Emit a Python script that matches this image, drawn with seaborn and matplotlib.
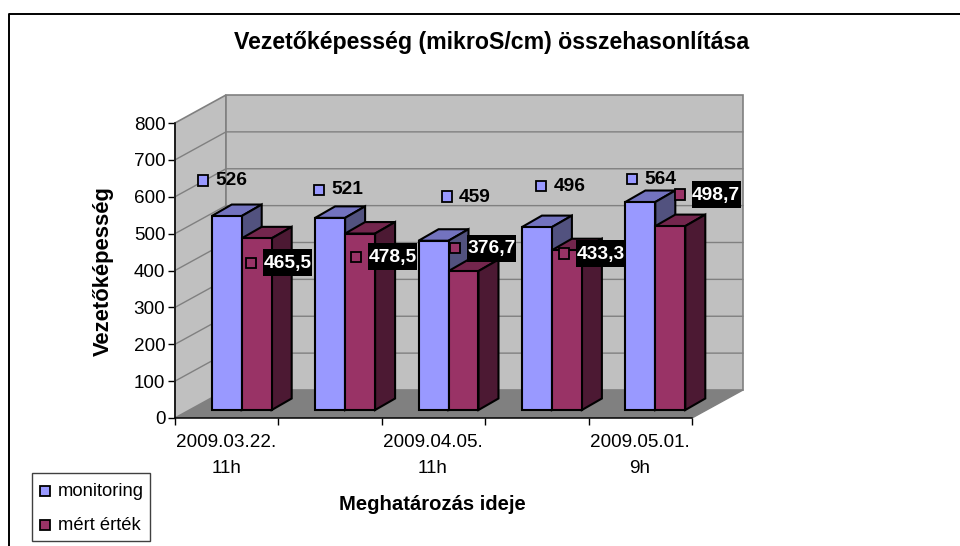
import matplotlib
matplotlib.use("Agg")
import matplotlib.pyplot as plt
import pandas as pd
import seaborn as sns
from matplotlib.patches import Polygon, Rectangle
from matplotlib.transforms import Affine2D

sns.set_theme(style="white")
plt.rcParams["font.family"] = ["Liberation Sans", "DejaVu Sans"]

W, H = 960, 546

dates = ["2009.03.22.\n11h", "", "2009.04.05.\n11h", "", "2009.05.01.\n9h"]
positions = ["d1", "d2", "d3", "d4", "d5"]
monitoring = [526, 521, 459, 496, 564]
mert_ertek = [465.5, 478.5, 376.7, 433.3, 498.7]
monitoring_labels = ["526", "521", "459", "496", "564"]
mert_labels = ["465,5", "478,5", "376,7", "433,3", "498,7"]
y_ticks = [0, 100, 200, 300, 400, 500, 600, 700, 800]

# label places in image pixels (marker x, marker y)
mon_pos = [(203, 180.5), (318.5, 189.5), (446.5, 196.5), (541, 186), (631.5, 179)]
mert_pos = [(251, 262.5), (356, 256.5), (455, 248), (564, 253.5), (679.5, 194.5)]

blue = ["#9999FF", "#7373BF", "#52527F"]
red = ["#993366", "#73264D", "#4C1933"]

df = pd.DataFrame({
    "ido": positions * 2,
    "ertek": monitoring + mert_ertek,
    "sor": ["monitoring"] * 5 + ["mért érték"] * 5,
})

fig = plt.figure(figsize=(W / 100, H / 100), dpi=100)


def fx(x):
    return x / W


def fy(y):
    return 1 - y / H


# front plane of the chart box
ax = fig.add_axes([fx(175), fy(418), (692 - 175) / W, (418 - 123) / H])
ax.patch.set_alpha(0)

sns.barplot(data=df, x="ido", y="ertek", hue="sor", order=positions,
            hue_order=["monitoring", "mért érték"],
            palette=[blue[0], red[0]], width=0.58, gap=0, dodge=True,
            saturation=1, legend=False, ax=ax)
ax.set_xlim(-0.5, 4.5)
ax.set_ylim(0, 800)

px_x = 517 / 5
px_y = 295 / 800
wall_dx, wall_dy = 51 / px_x, 28 / px_y
bar_dx, bar_dy = 15 / px_x, 8 / px_y
side_dx, side_dy = 20 / px_x, 11.5 / px_y
gray = "#808080"

# take the bars before the walls get added to the axes
bars = [b for c in ax.containers for b in c]
bars = sorted(bars, key=lambda p: p.get_x())

# floor and walls
ax.add_patch(Polygon([(-0.5, 0), (-0.5 + wall_dx, wall_dy), (4.5 + wall_dx, wall_dy), (4.5, 0)],
                     fc=gray, ec="none", clip_on=False, zorder=1))
ax.add_patch(Polygon([(-0.5, 0), (-0.5 + wall_dx, wall_dy), (-0.5 + wall_dx, 800 + wall_dy), (-0.5, 800)],
                     fc="#C0C0C0", ec=gray, lw=1.2, clip_on=False, zorder=1))
ax.add_patch(Rectangle((-0.5 + wall_dx, wall_dy), 5, 800,
                       fc="#C0C0C0", ec=gray, lw=1.2, clip_on=False, zorder=1))
for t in y_ticks[1:-1]:
    ax.plot([-0.5, -0.5 + wall_dx, 4.5 + wall_dx], [t, t + wall_dy, t + wall_dy],
            color=gray, lw=1, clip_on=False, zorder=1.5)
ax.plot([4.5, 4.5 + wall_dx], [0, wall_dy], color=gray, lw=1, clip_on=False, zorder=1.5)

# bars pushed back to the middle of the depth, with top and side faces
shift = Affine2D().translate(bar_dx, bar_dy) + ax.transData
z = 3
for b in bars:
    shades = blue if b.get_facecolor()[2] > 0.9 else red
    x0, x1, h = b.get_x(), b.get_x() + b.get_width(), b.get_height()
    top = Polygon([(x0, h), (x0 + side_dx, h + side_dy), (x1 + side_dx, h + side_dy), (x1, h)],
                  fc=shades[1], ec="black", lw=1.5, transform=shift, clip_on=False, zorder=z)
    side = Polygon([(x1, 0), (x1 + side_dx, side_dy), (x1 + side_dx, h + side_dy), (x1, h)],
                   fc=shades[2], ec="black", lw=1.5, transform=shift, clip_on=False, zorder=z)
    ax.add_patch(top)
    ax.add_patch(side)
    b.set_transform(shift)
    b.set_clip_on(False)
    b.set_edgecolor("black")
    b.set_linewidth(1.5)
    b.set_zorder(z + 0.5)
    z += 1

# axes
for s in ["top", "right"]:
    ax.spines[s].set_visible(False)
for s in ["left", "bottom"]:
    ax.spines[s].set_color("black")
    ax.spines[s].set_linewidth(1.1)
    ax.spines[s].set_zorder(2)
ax.set_yticks(y_ticks)
ax.set_xticks([i - 0.5 for i in range(6)])
ax.set_xticklabels([""] * 6)
ax.tick_params(axis="both", length=5, width=1, color="black", direction="out",
               bottom=True, left=True)
ax.tick_params(axis="y", labelsize=13.6, labelcolor="black", pad=2)
ax.set_xlabel("")
ax.set_ylabel("")

for i, d in enumerate(dates):
    if d:
        ax.annotate(d, xy=(i, 0), xytext=(-0.5, -16), textcoords="offset pixels", ha="center", va="top",
                    fontsize=13.6, color="black", linespacing=1.68, annotation_clip=False)

fig.text(fx(492), fy(42.5), "Vezetőképesség (mikroS/cm) összehasonlítása", ha="center", va="center",
         fontsize=16.7, fontweight="bold", color="black")
fig.text(fx(103.5), fy(271), "Vezetőképesség", rotation=90, ha="center", va="center",
         fontsize=15.8, fontweight="bold", color="black")
fig.text(fx(432), fy(505), "Meghatározás ideje", ha="center", va="center",
         fontsize=14.6, fontweight="bold", color="black")

# data labels sit above everything
for (mx, my), txt in zip(mon_pos, monitoring_labels):
    fig.add_artist(Rectangle((fx(mx - 5), fy(my + 5)), 10 / W, 10 / H, fc=blue[0], ec="black",
                             lw=1.3, transform=fig.transFigure, zorder=20))
    fig.text(fx(mx + 12.5), fy(my + 0.5), txt, ha="left", va="center", fontsize=13.8,
             fontweight="bold", color="black", zorder=20)
for (mx, my), txt in zip(mert_pos, mert_labels):
    fig.add_artist(Rectangle((fx(mx + 12), fy(my + 13.5)), 49 / W, 26.5 / H, fc="black", ec="none",
                             transform=fig.transFigure, zorder=20))
    fig.add_artist(Rectangle((fx(mx - 5), fy(my + 5)), 10 / W, 10 / H, fc=red[0], ec="black",
                             lw=1.3, transform=fig.transFigure, zorder=20))
    fig.text(fx(mx + 36.5), fy(my + 1), txt, ha="center", va="center", fontsize=13.8,
             fontweight="bold", color="white", zorder=21)

# legend box
fig.add_artist(Rectangle((fx(32), fy(541)), 118 / W, 68 / H, fc="white", ec="#404040", lw=1,
                         transform=fig.transFigure, zorder=20))
for name, col, ly in [("monitoring", blue[0], 491), ("mért érték", red[0], 525)]:
    fig.add_artist(Rectangle((fx(39.5), fy(ly + 5)), 10 / W, 10 / H, fc=col, ec="black", lw=1.3,
                             transform=fig.transFigure, zorder=21))
    fig.text(fx(58), fy(ly), name, ha="left", va="center", fontsize=13.2, color="black", zorder=21)

# outer chart border, open on the right
fig.add_artist(plt.Line2D([fx(9), fx(9), fx(960)], [fy(546), fy(13.5), fy(13.5)],
                          color="black", lw=1.4, transform=fig.transFigure, zorder=0))

fig.savefig("out.png", dpi=100)
